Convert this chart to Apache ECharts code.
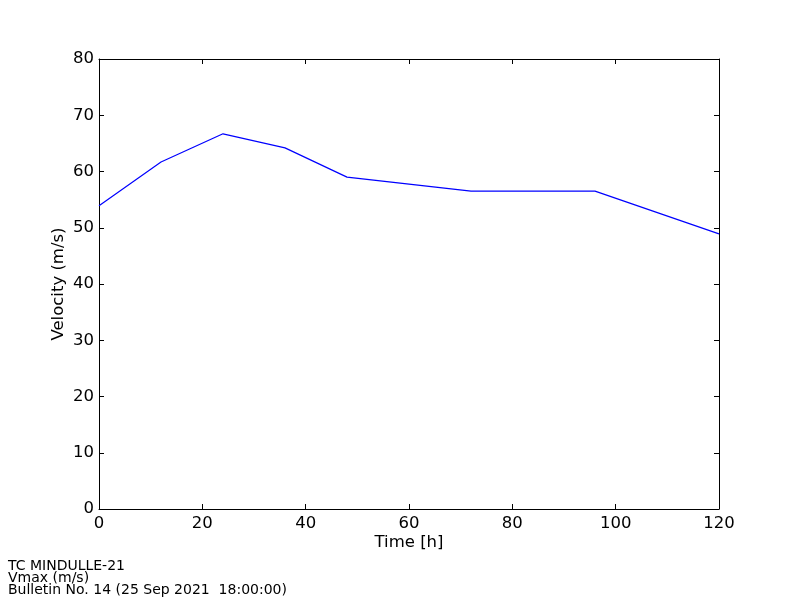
<!DOCTYPE html>
<html><head><meta charset="utf-8">
<script src="https://cdn.jsdelivr.net/npm/echarts@6/dist/echarts.min.js"></script>
<style>html,body{margin:0;padding:0;background:#fff}#c{width:800px;height:600px}</style>
</head><body><div id="c"></div>
<script>
const hours = [0, 12, 24, 36, 48, 72, 96, 120];
const vmax = [53.9, 61.7, 66.7, 64.2, 59.0, 56.5, 56.5, 48.9];
const footer = ['TC MINDULLE-21', 'Vmax (m/s)', 'Bulletin No. 14 (25 Sep 2021  18:00:00)'];
const font = 'DejaVu Sans';
const chart = echarts.init(document.getElementById('c'), null, {renderer: 'canvas'});
const axisCommon = {
  axisLine: {show: true, onZero: false, lineStyle: {color: '#000', width: 1}},
  axisTick: {show: true, inside: true, length: 5, lineStyle: {color: '#000'}},
  splitLine: {show: false}
};
chart.setOption({
  animation: false,
  backgroundColor: '#fff',
  grid: {left: 99, right: 81, top: 59, bottom: 91, containLabel: false},
  xAxis: [
    Object.assign({type: 'value', min: 0, max: 120, interval: 20, position: 'bottom',
      name: 'Time [h]', nameLocation: 'middle', nameGap: 25, nameMoveOverlap: false,
      nameTextStyle: {fontFamily: font, fontSize: 16.5, color: '#000'},
      axisLabel: {fontFamily: font, fontSize: 16.5, color: '#000', margin: 6}}, axisCommon),
    Object.assign({type: 'value', min: 0, max: 120, interval: 20, position: 'top',
      axisLabel: {show: false}}, axisCommon)
  ],
  yAxis: [
    Object.assign({type: 'value', min: 0, max: 80, interval: 10, position: 'left',
      name: 'Velocity (m/s)', nameLocation: 'middle', nameGap: 32, nameRotate: 90, nameMoveOverlap: false,
      nameTextStyle: {fontFamily: font, fontSize: 16.5, color: '#000'},
      axisLabel: {fontFamily: font, fontSize: 16.5, color: '#000', margin: 5}}, axisCommon),
    Object.assign({type: 'value', min: 0, max: 80, interval: 10, position: 'right',
      axisLabel: {show: false}}, axisCommon)
  ],
  graphic: footer.map((t, i) => ({
    type: 'text', left: 8, top: 559 + i * 12,
    style: {text: t, fontFamily: font, fontSize: 14, fill: '#000'}
  })),
  series: [{
    type: 'line', xAxisIndex: 0, yAxisIndex: 0,
    data: hours.map((h, i) => [h, vmax[i]]),
    showSymbol: false, symbol: 'none',
    lineStyle: {color: '#0000ff', width: 1.2}
  }]
});
</script></body></html>
